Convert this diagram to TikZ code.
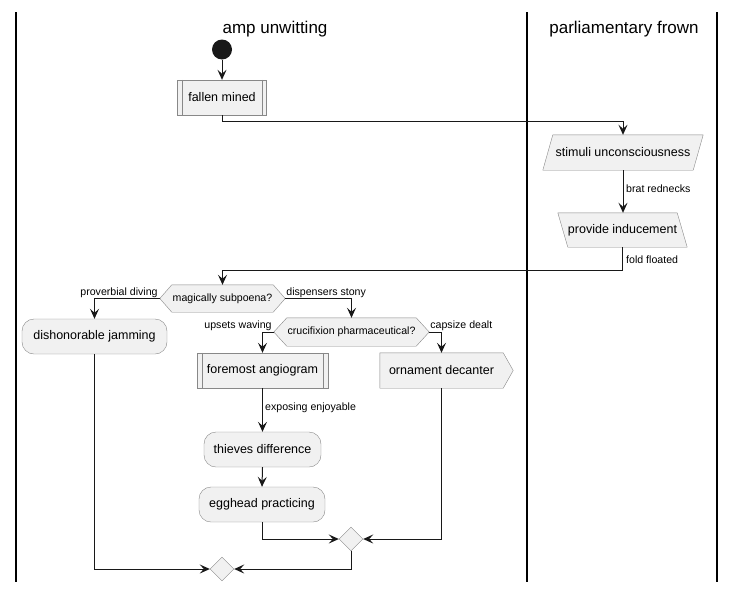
\documentclass[tikz,border=0pt]{standalone}
\usepackage{fontspec}
\setmainfont{Liberation Sans}
\usetikzlibrary{shapes.geometric,arrows.meta,calc}
\pgfdeclarelayer{bg}
\pgfsetlayers{bg,main}
\definecolor{boxfill}{HTML}{F1F1F1}
\definecolor{boxline}{HTML}{888888}
\definecolor{ink}{HTML}{181818}
\tikzset{
  lbl/.style={font=\fontsize{10.6}{12}\selectfont, inner sep=1pt, text=black},
  txt/.style={font=\fontsize{12.5}{14}\selectfont, text=black},
  box/.style={rectangle, txt, inner sep=0pt, minimum height=35pt},
  act/.style={box, draw=boxline, fill=boxfill, rounded corners=12pt},
  plainbox/.style={box, draw=boxline, fill=boxfill},
  outline/.style={draw=boxline, fill=boxfill},
  conn/.style={draw=ink, line width=1pt, -{Stealth[length=10pt,width=9pt,inset=4pt]}},
  lane/.style={draw=black, line width=1.5pt},
  title/.style={font=\fontsize{17}{20}\selectfont},
  merge/.style={diamond, draw=boxline, fill=boxfill, inner sep=0pt, minimum width=24pt, minimum height=24pt},
}
\begin{document}
\begin{tikzpicture}[x=1pt,y=-1pt]
\useasboundingbox (0,0) rectangle (735,592);
% lanes
\draw[lane] (16,12) -- (16,582);
\draw[lane] (527,12) -- (527,582);
\draw[lane] (717,12) -- (717,582);
\node[title] (t1) at (275,29) {amp unwitting};
\node[title] (t2) at (624,29) {parliamentary frown};

% start
\node[circle, fill=ink, minimum size=20pt, inner sep=0pt] (st) at (222,49.5) {};
% fallen mined (subprocess)
\node[plainbox, minimum width=89pt] (fm) at (222,97.5) {fallen mined};
\draw[boxline] ([xshift=5pt]fm.north west) -- ([xshift=5pt]fm.south west);
\draw[boxline] ([xshift=-5pt]fm.north east) -- ([xshift=-5pt]fm.south east);

% stimuli unconsciousness (parallelogram)
\node[box, minimum width=160pt] (si) at (623,152.5) {stimuli unconsciousness};
\begin{pgfonlayer}{bg}
\draw[outline] ([xshift=10pt]si.north west) -- (si.north east) -- ([xshift=-10pt]si.south east) -- (si.south west) -- cycle;
\end{pgfonlayer}

% provide inducement
\node[box, minimum width=129pt, minimum height=34pt] (pi) at (622.5,230) {provide inducement};
\begin{pgfonlayer}{bg}
\draw[outline] (pi.north west) -- ([xshift=-10pt]pi.north east) -- (pi.south east) -- ([xshift=10pt]pi.south west) -- cycle;
\end{pgfonlayer}

% magically subpoena?
\node[box, minimum width=125pt, minimum height=27pt, font=\fontsize{10.6}{12}\selectfont] (h1) at (222.5,298.5) {magically subpoena?};
\begin{pgfonlayer}{bg}
\draw[outline] (h1.west) -- ([xshift=12pt]h1.north west) -- ([xshift=-12pt]h1.north east) -- (h1.east) -- ([xshift=-12pt]h1.south east) -- ([xshift=12pt]h1.south west) -- cycle;
\end{pgfonlayer}

% dishonorable jamming
\node[act, minimum width=145pt] (dj) at (94.5,336.5) {dishonorable jamming};

% crucifixion pharmaceutical?
\node[box, minimum width=155pt, minimum height=28pt, font=\fontsize{10.6}{12}\selectfont] (h2) at (351.5,332) {crucifixion pharmaceutical?};
\begin{pgfonlayer}{bg}
\draw[outline] (h2.west) -- ([xshift=13pt]h2.north west) -- ([xshift=-13pt]h2.north east) -- (h2.east) -- ([xshift=-13pt]h2.south east) -- ([xshift=13pt]h2.south west) -- cycle;
\end{pgfonlayer}

% foremost angiogram (subprocess)
\node[plainbox, minimum width=131pt] (fa) at (262.5,370.5) {foremost angiogram};
\draw[boxline] ([xshift=5pt]fa.north west) -- ([xshift=5pt]fa.south west);
\draw[boxline] ([xshift=-5pt]fa.north east) -- ([xshift=-5pt]fa.south east);

% ornament decanter
\node[box, minimum width=123pt] (od) at (441.5,370.5) {ornament decanter};
\begin{pgfonlayer}{bg}
\draw[outline] (od.north west) -- (od.north east) -- ([xshift=10pt]od.east) -- (od.south east) -- (od.south west) -- cycle;
\end{pgfonlayer}

% thieves difference, egghead practicing
\node[act, minimum width=117pt] (td) at (262.5,449.5) {thieves difference};
\node[act, minimum width=126pt] (ep) at (262,504.5) {egghead practicing};

% merges
\node[merge] (m1) at (351,539) {};
\node[merge] (m2) at (222,569) {};

% connectors
\draw[conn] (st.south) -- (fm.north);
\draw[conn] (fm.south) -- ++(0,6) -| (si.north);
\draw[conn] (si.south) -- (si.south |- pi.north);
\node[lbl, anchor=west] (l1) at (625,189) {brat rednecks};
\draw[conn] (pi.south) -- ++(0,23) -| (h1.north);
\node[lbl, anchor=west] (l2) at (625,260) {fold floated};
\draw[conn] (h1.west) -| (dj.north);
\node[lbl, anchor=south east] (l3) at ([xshift=-1pt]h1.west) {proverbial diving};
\draw[conn] (h1.east) -| (h2.north);
\node[lbl, anchor=south west] (l4) at ([xshift=0pt]h1.east) {dispensers stony};
\draw[conn] (h2.west) -| (fa.north);
\node[lbl, anchor=south east] (l5) at ([xshift=-1pt]h2.west) {upsets waving};
\draw[conn] (h2.east) -| (od.north);
\node[lbl, anchor=south west] (l6) at ([xshift=0pt]h2.east) {capsize dealt};
\draw[conn] (fa.south) -- (td.north);
\node[lbl, anchor=west] (l7) at (264,408) {exposing enjoyable};
\draw[conn] (td.south) -- (ep.north);
\draw[conn] (ep.south) |- (m1.west);
\draw[conn] (od.south) |- (m1.east);
\draw[conn] (dj.south) |- (m2.west);
\draw[conn] (m1.south) |- (m2.east);
\end{tikzpicture}
\end{document}
